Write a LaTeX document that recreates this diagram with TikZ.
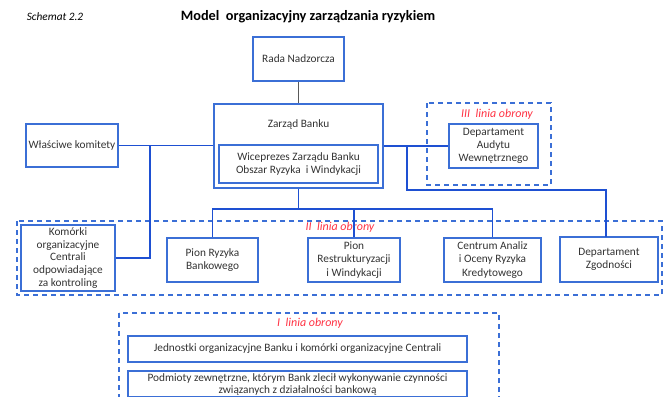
\documentclass[tikz,border=0pt]{standalone}
\usepackage{fontspec}
\setmainfont{Carlito}
\definecolor{boxblue}{HTML}{3B6FD6}
\definecolor{lineblue}{HTML}{1E50D2}
\definecolor{txtgray}{HTML}{333333}
\definecolor{linered}{HTML}{FF3344}
\begin{document}
\begin{tikzpicture}[x=1pt,y=-1pt,
  box/.style={draw=boxblue,line width=1.8pt,text=txtgray,align=center,inner sep=0pt,font=\fontsize{11.3}{13.2}\selectfont},
  plain/.style={text=txtgray,align=center,inner sep=0pt,font=\fontsize{11.3}{13.2}\selectfont},
  conn/.style={draw=lineblue,line width=1.3pt},
  zone/.style={draw=boxblue,line width=1.4pt,dash pattern=on 5pt off 4pt},
  lab/.style={text=linered,inner sep=0pt,font=\fontsize{12}{13}\selectfont\itshape}]
\useasboundingbox (0,0) rectangle (666,396);
\clip (0,0) rectangle (666,396);
\fill[white] (0,0) rectangle (666,396);

% titles
\node[inner sep=0pt,text=black,font=\fontsize{11.3}{13}\selectfont\itshape] (sch) at (55,17) {Schemat 2.2};
\node[inner sep=0pt,text=black,font=\fontsize{14.3}{16}\selectfont\bfseries] (title) at (308,17) {Model\ \ organizacyjny zarządzania ryzykiem};

% zones
\draw[zone] (427,103) rectangle (551,185);
\draw[zone] (17,221) rectangle (662,295);
\draw[zone] (119,313) rectangle (499,410);
\node[lab] (l3) at (497,114) {III\ \ linia obrony};
\node[lab] (l2) at (340,227) {II\ \ linia obrony};
\node[lab] (l1) at (310,323) {I\ \ linia obrony};

% boxes
\node[box,minimum width=91pt,minimum height=44pt] (rada) at (298.5,59) {Rada Nadzorcza};
\node[box,minimum width=169pt,minimum height=84pt] (zb) at (298.5,146) {};
\node[plain] (zbt) at (298.5,124) {Zarząd Banku};
\node[box,minimum width=159pt,minimum height=38pt] (wice) at (298.5,164) {Wiceprezes Zarządu Banku\\Obszar Ryzyka\ \ i Windykacji};
\node[box,minimum width=92pt,minimum height=43pt] (wk) at (72,145.5) {Właściwe komitety};
\node[box,minimum width=94pt,minimum height=66pt,font=\fontsize{11.3}{12.8}\selectfont] (kom) at (68,258) {Komórki\\organizacyjne\\Centrali\\odpowiadające\\za kontroling};
\node[box,minimum width=91pt,minimum height=44pt] (prb) at (212.5,260) {Pion Ryzyka\\Bankowego};
\node[box,minimum width=92pt,minimum height=44pt] (prw) at (354,260) {Pion\\Restrukturyzacji\\i Windykacji};
\node[box,minimum width=97pt,minimum height=44pt] (ca) at (492.5,260) {Centrum Analiz\\i Oceny Ryzyka\\Kredytowego};
\node[box,minimum width=98pt,minimum height=45pt] (dz) at (609,259.5) {Departament\\Zgodności};
\node[box,minimum width=89pt,minimum height=44pt] (dau) at (493.5,146) {Departament\\Audytu\\Wewnętrznego};
\node[box,minimum width=339pt,minimum height=26pt] (jed) at (297.5,349) {Jednostki organizacyjne Banku i komórki organizacyjne Centrali};
\node[box,minimum width=339pt,minimum height=26pt,font=\fontsize{11.3}{12}\selectfont] (pod) at (297.5,384) {Podmioty zewnętrzne, którym Bank zlecił wykonywanie czynności\\związanych z działalności bankową};

% connectors
\draw[draw=gray!70!black,line width=0.8pt] (rada.south) -- (zb.north);
\draw[conn] (wk.east) -- (wk.east -| zb.west);
\coordinate (kl) at (150,146);
\draw[conn] (kl) |- (kom.east);
\draw[conn] (zb.east |- dau.west) -- (dau.west);
\coordinate (kr) at (407,146);
\coordinate (dzt) at (606,237);
\draw[conn] (kr) -- (407,190) -| (dzt);
\coordinate (tj) at (298.5,209);
\draw[conn] (zb.south) -- (tj);
\draw[conn] (prb.north) |- (tj) -| (ca.north);
\draw[conn] (prw.north) -- (prw.north |- tj);
\end{tikzpicture}
\end{document}
